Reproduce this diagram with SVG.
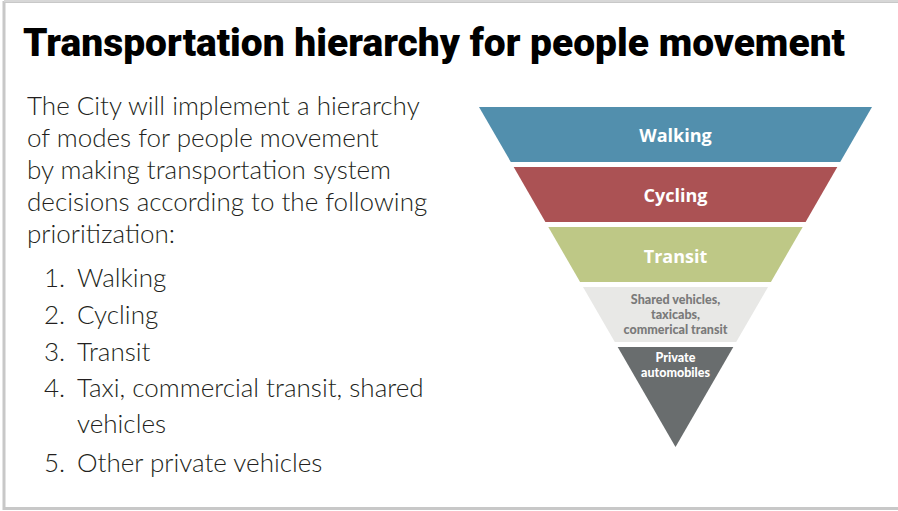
<svg xmlns="http://www.w3.org/2000/svg" width="898" height="511" viewBox="0 0 898 511">
<style>
.title{font-family:Roboto,"Liberation Sans",sans-serif;font-weight:900;font-size:39px;fill:#000}
.body{font-family:"Source Sans Pro",Lato,"Noto Sans",sans-serif;font-weight:300;font-size:26px;fill:#231f20}
.lbl{font-family:"Source Sans Pro","Open Sans","Noto Sans",sans-serif;font-weight:700;fill:#fff;text-anchor:middle}
.big{font-size:18px}
.small{font-family:"Source Sans Pro",Lato,"Noto Sans",sans-serif;font-size:12.5px;font-weight:900}
.grey{fill:#7a7a7a}
</style>
<rect x="0" y="0" width="898" height="511" fill="#fff"/>
<path d="M4 1.5 H898 M4 1 V508.5 H898" fill="none" stroke="#c8c8c8" stroke-width="3"/>
<path d="M4 1 H898" fill="none" stroke="#dcdcdc" stroke-width="1.5"/>
<text class="title" x="23" y="55.5" textLength="822" lengthAdjust="spacingAndGlyphs">Transportation hierarchy for people movement</text>
<g id="intro">
<text class="body" x="27" y="115">The City will implement a hierarchy</text>
<text class="body" x="27" y="147">of modes for people movement</text>
<text class="body" x="27" y="179">by making transportation system</text>
<text class="body" x="27" y="211">decisions according to the following</text>
<text class="body" x="27" y="243">prioritization:</text>
</g>
<g id="list">
<text class="body" x="44" y="287">1.</text><text class="body" x="77" y="287">Walking</text>
<text class="body" x="44" y="324">2.</text><text class="body" x="77" y="324">Cycling</text>
<text class="body" x="44" y="361">3.</text><text class="body" x="77" y="361">Transit</text>
<text class="body" x="44" y="397">4.</text><text class="body" x="77" y="397">Taxi, commercial transit, shared</text>
<text class="body" x="77" y="433">vehicles</text>
<text class="body" x="44" y="472">5.</text><text class="body" x="77" y="472">Other private vehicles</text>
</g>
<g id="walking">
<polygon points="479,107 872,107 840.2,162 510.8,162" fill="#528fad"/>
<text class="lbl big" x="675.5" y="142">Walking</text>
</g>
<g id="cycling">
<polygon points="513.7,167 837.3,167 805.6,222 545.4,222" fill="#ab5254"/>
<text class="lbl big" x="675.5" y="202">Cycling</text>
</g>
<g id="transit">
<polygon points="548.3,227 802.7,227 770.9,282 580.1,282" fill="#bec886"/>
<text class="lbl big" x="675.5" y="262.5">Transit</text>
</g>
<g id="shared">
<polygon points="583,287 768,287 736.2,342 614.8,342" fill="#e8e8e6"/>
<text class="lbl small grey" x="675.5" y="304">Shared vehicles,</text>
<text class="lbl small grey" x="675.5" y="319">taxicabs,</text>
<text class="lbl small grey" x="675.5" y="334">commerical transit</text>
</g>
<g id="private">
<polygon points="617.7,347 733.3,347 675.5,447" fill="#696d6e"/>
<text class="lbl small" x="675.5" y="362">Private</text>
<text class="lbl small" x="675.5" y="377">automobiles</text>
</g>
<g id="connectors"></g>
</svg>
